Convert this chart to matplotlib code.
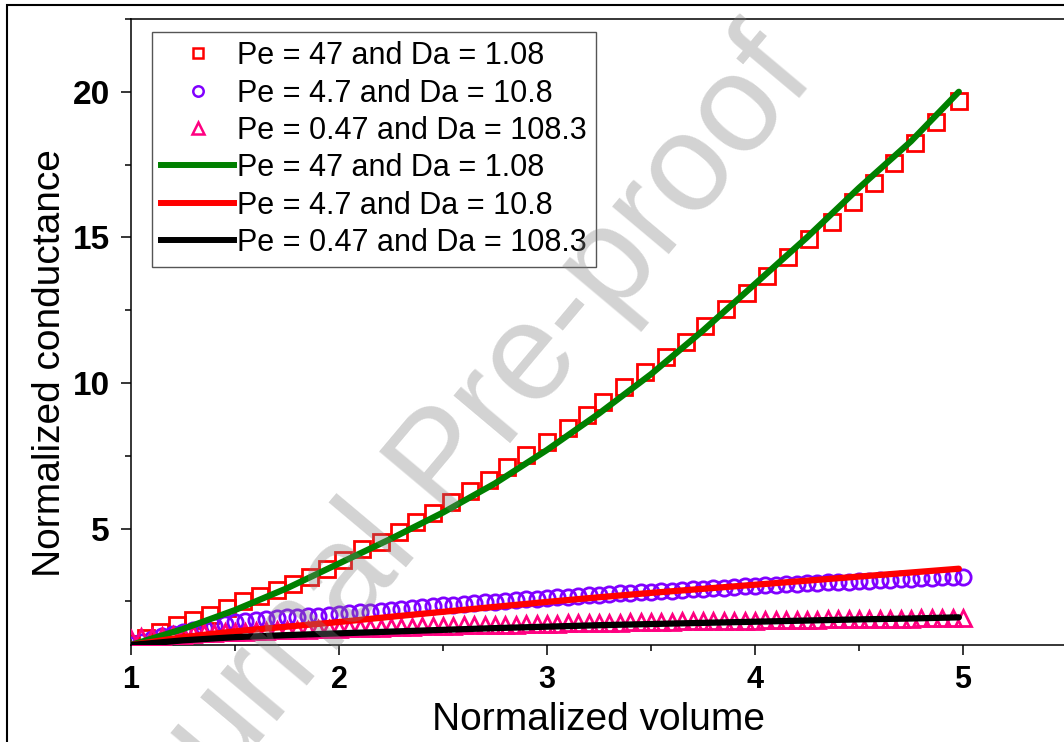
import matplotlib
matplotlib.use('Agg')
import matplotlib.pyplot as plt
from matplotlib.lines import Line2D
from matplotlib.patches import Rectangle
from matplotlib.ticker import MultipleLocator

plt.rcParams['font.family'] = ['Liberation Sans', 'DejaVu Sans']

# 数据: 方块点 (Pe=47, Da=1.08)
sq_x = [1.00, 1.07, 1.14, 1.22, 1.30, 1.38, 1.46, 1.54, 1.62, 1.70,
        1.78, 1.86, 1.94, 2.02, 2.11, 2.20, 2.29, 2.37, 2.45, 2.54,
        2.63, 2.72, 2.81, 2.90, 3.00, 3.10, 3.19, 3.27, 3.37, 3.47,
        3.57, 3.67, 3.76, 3.86, 3.96, 4.06, 4.16, 4.26, 4.37, 4.47,
        4.57, 4.67, 4.77, 4.87, 4.98]
sq_y = [1.05, 1.25, 1.45, 1.70, 1.87, 2.04, 2.27, 2.50, 2.68, 2.88,
        3.08, 3.32, 3.60, 3.93, 4.30, 4.55, 4.88, 5.23, 5.55, 5.92,
        6.30, 6.66, 7.10, 7.52, 7.98, 8.44, 8.90, 9.36, 9.87, 10.39,
        10.90, 11.42, 11.96, 12.53, 13.10, 13.68, 14.31, 14.94, 15.54, 16.20,
        16.86, 17.55, 18.24, 18.95, 19.67]

# 圆点 (Pe=4.7, Da=10.8) 和三角点 (Pe=0.47, Da=108.3), 步长 0.05
pt_x = [round(1 + 0.05 * i, 2) for i in range(81)]
ci_y = [1.00, 1.10, 1.20, 1.30, 1.38, 1.46, 1.53, 1.60, 1.66, 1.72,
        1.78, 1.82, 1.86, 1.89, 1.92, 1.95, 1.97, 1.99, 2.01, 2.03,
        2.06, 2.09, 2.12, 2.15, 2.18, 2.21, 2.24, 2.27, 2.30, 2.33,
        2.36, 2.39, 2.42, 2.44, 2.47, 2.49, 2.52, 2.54, 2.57, 2.59,
        2.62, 2.64, 2.66, 2.69, 2.71, 2.73, 2.75, 2.77, 2.79, 2.81,
        2.83, 2.85, 2.87, 2.89, 2.91, 2.93, 2.95, 2.97, 2.99, 3.01,
        3.03, 3.05, 3.07, 3.08, 3.10, 3.12, 3.13, 3.15, 3.17, 3.18,
        3.20, 3.21, 3.23, 3.24, 3.26, 3.27, 3.29, 3.30, 3.32, 3.33,
        3.35]
tr_y = [1.22, 1.26, 1.29, 1.32, 1.34, 1.36, 1.38, 1.40, 1.41, 1.43,
        1.44, 1.46, 1.47, 1.48, 1.50, 1.51, 1.52, 1.53, 1.54, 1.55,
        1.56, 1.57, 1.58, 1.59, 1.60, 1.61, 1.62, 1.63, 1.64, 1.64,
        1.65, 1.66, 1.67, 1.67, 1.68, 1.69, 1.70, 1.70, 1.71, 1.72,
        1.72, 1.73, 1.74, 1.74, 1.75, 1.76, 1.76, 1.77, 1.78, 1.78,
        1.79, 1.79, 1.80, 1.81, 1.81, 1.82, 1.82, 1.83, 1.83, 1.84,
        1.84, 1.85, 1.85, 1.86, 1.86, 1.87, 1.87, 1.88, 1.88, 1.89,
        1.89, 1.90, 1.90, 1.90, 1.91, 1.91, 1.92, 1.92, 1.93, 1.93,
        1.93]

# 拟合曲线
ln_x = [1.0, 1.25, 1.5, 1.75, 2.0, 2.25, 2.5, 2.75, 3.0, 3.25,
        3.5, 3.75, 4.0, 4.25, 4.5, 4.75, 4.98]
green_y = [1.0, 1.55, 2.2, 2.95, 3.8, 4.65, 5.55, 6.55, 7.7, 8.95,
           10.3, 11.8, 13.4, 15.0, 16.7, 18.3, 20.0]
red_y = [1.0, 1.27, 1.47, 1.63, 1.79, 1.97, 2.14, 2.31, 2.48, 2.64,
         2.79, 2.93, 3.07, 3.21, 3.35, 3.49, 3.62]
black_y = [1.0, 1.16, 1.27, 1.34, 1.40, 1.46, 1.52, 1.58, 1.63, 1.68,
           1.72, 1.76, 1.80, 1.84, 1.88, 1.91, 1.95]

labels = ['Pe = 47 and Da = 1.08', 'Pe = 4.7 and Da = 10.8', 'Pe = 0.47 and Da = 108.3']
purple = '#8000FF'
pink = '#FF0080'

W, H = 1064, 742
fig = plt.figure(figsize=(W / 100, H / 100), dpi=100)
ax = fig.add_axes([131 / W, 1 - 645 / H, 4.6 * 208 / W, 626 / H])

ax.plot(sq_x, sq_y, 's', ms=11, mfc='none', mec='red', mew=2, zorder=3)
ax.plot(pt_x, ci_y, 'o', ms=11, mfc='none', mec=purple, mew=2, zorder=3)
ax.plot(pt_x, tr_y, '^', ms=12, mfc='none', mec=pink, mew=2, zorder=3)
ax.plot(ln_x, green_y, color='#008000', lw=4.5, zorder=4, solid_capstyle='round')
ax.plot(ln_x, red_y, color='red', lw=4.5, zorder=4, solid_capstyle='round')
ax.plot(ln_x, black_y, color='black', lw=4.5, zorder=4, solid_capstyle='round')

ax.set_xlim(1, 5.6)
ax.set_ylim(1, 22.5)
ax.xaxis.set_major_locator(MultipleLocator(1))
ax.xaxis.set_minor_locator(MultipleLocator(0.5))
ax.set_yticks([5, 10, 15, 20])
ax.yaxis.set_minor_locator(MultipleLocator(2.5))
ax.tick_params(which='both', direction='out', width=1.1, top=False, right=False)
ax.tick_params(which='major', length=7.2)
ax.tick_params(which='minor', length=4.3)
ax.tick_params(axis='y', labelsize=24, pad=8)
ax.tick_params(axis='x', labelsize=22, pad=7)
for t in ax.get_xticklabels() + ax.get_yticklabels():
    t.set_fontweight('bold')
for s in ax.spines.values():
    s.set_linewidth(1.1)

ax.set_xlabel('Normalized volume', fontsize=28)
ax.xaxis.set_label_coords((598 - 131) / (4.6 * 208), -(720 - 645) / 626)
ax.set_ylabel('Normalized conductance', fontsize=28)
ax.yaxis.set_label_coords(-(131 - 50) / (4.6 * 208), (645 - 363) / 626)
ax.xaxis.label.set_va('center')
ax.yaxis.label.set_va('center')

handles = [
    Line2D([], [], ls='none', marker='s', ms=7.5, mfc='none', mec='red', mew=1.8),
    Line2D([], [], ls='none', marker='o', ms=7.5, mfc='none', mec=purple, mew=1.8),
    Line2D([], [], ls='none', marker='^', ms=8.5, mfc='none', mec=pink, mew=1.8),
    Line2D([], [], color='#008000', lw=4.3),
    Line2D([], [], color='red', lw=4.3),
    Line2D([], [], color='black', lw=4.3),
]
leg = ax.legend(handles, labels + labels, loc='upper left',
                bbox_to_anchor=(152 / W, 1 - 32 / H), bbox_transform=fig.transFigure,
                borderaxespad=0, fontsize=22, handlelength=2.39, handletextpad=0.08,
                labelspacing=0.24, borderpad=0.3, fancybox=False, framealpha=1)
leg.get_frame().set_edgecolor('#555555')
leg.get_frame().set_linewidth(1.0)

# 水印
fig.text(445 / W, 1 - 465 / H, 'Journal Pre-proof', fontsize=100, rotation=50,
         color='gray', alpha=0.35, ha='center', va='center', zorder=10)

# 外框
fig.patches.append(Rectangle((7 / W, -0.1), 1.2, 1 - 5 / H + 0.1, transform=fig.transFigure,
                             fill=False, edgecolor='black', lw=1.5, zorder=20))

fig.savefig('out.png', dpi=100)
